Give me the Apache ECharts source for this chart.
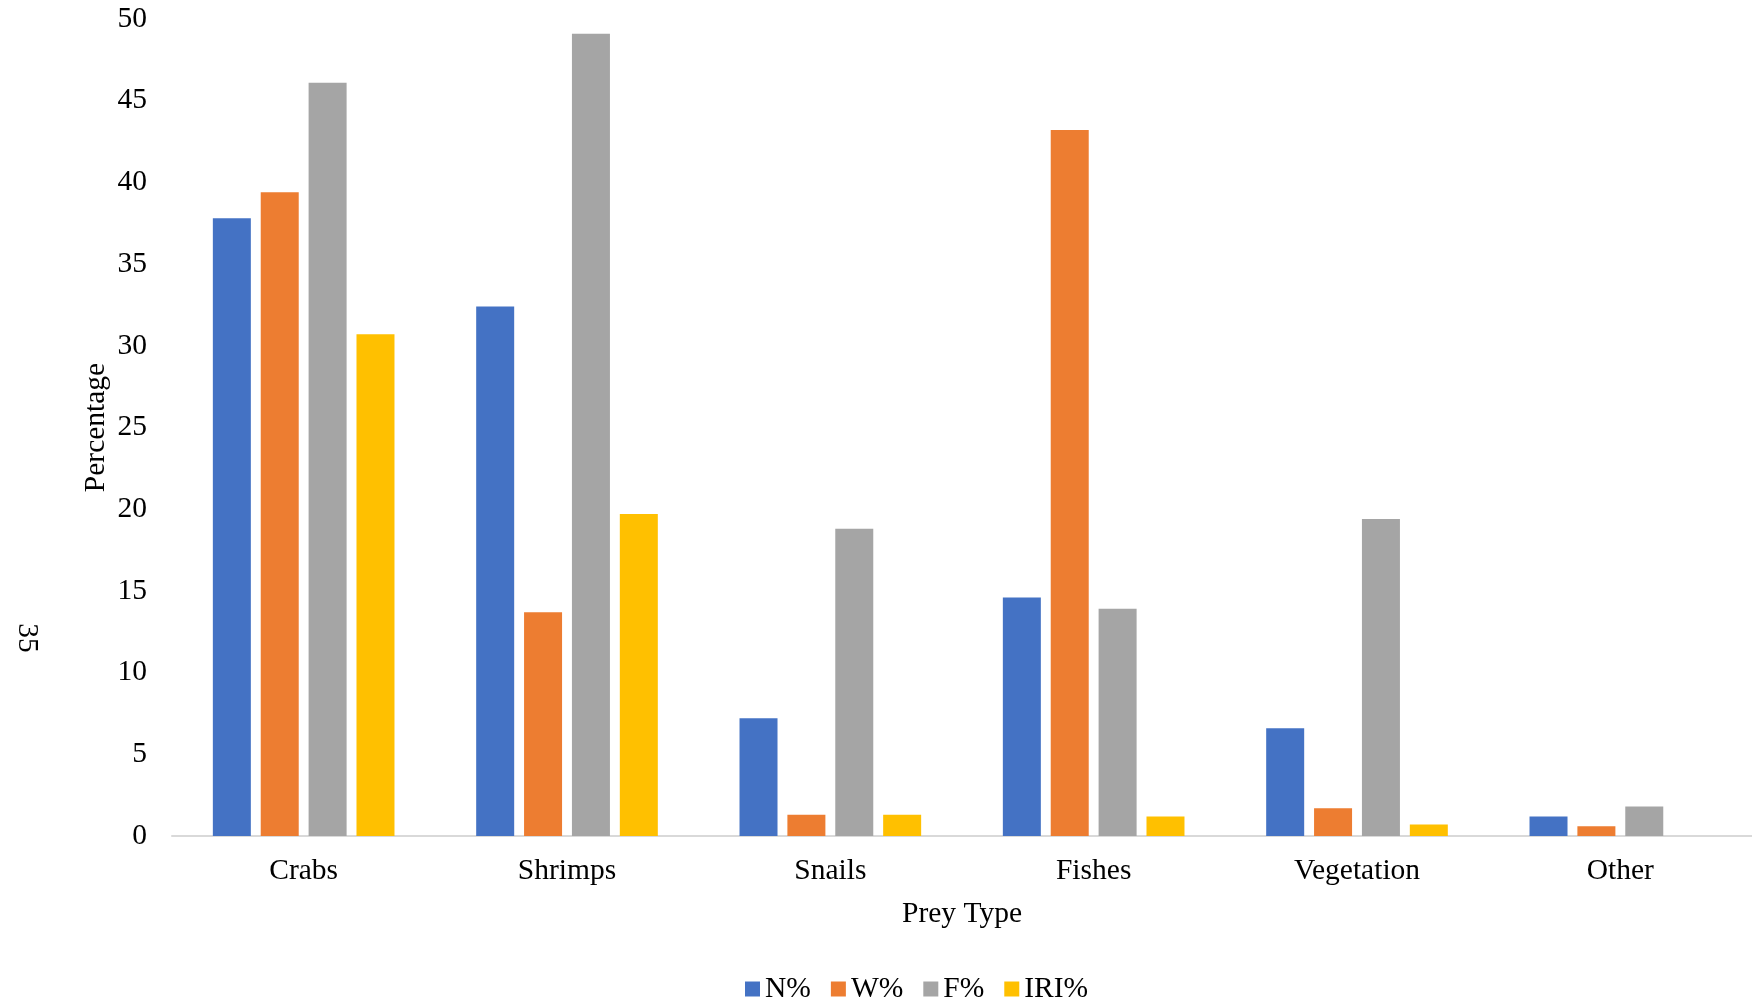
<!DOCTYPE html>
<html>
<head>
<meta charset="utf-8">
<title>Prey Type composition</title>
<script src="https://cdn.jsdelivr.net/npm/echarts@6/dist/echarts.min.js"></script>
<style>
  html, body { margin: 0; padding: 0; background: #ffffff; }
  #chart { width: 1752px; height: 1000px; }
</style>
</head>
<body>
<div id="chart"></div>
<script>
// Prey categories on the x axis
const categories = ['Crabs', 'Shrimps', 'Snails', 'Fishes', 'Vegetation', 'Other'];

// Diet indices (%) per prey type
const nPct   = [37.8, 32.4, 7.2, 14.6, 6.6, 1.2];
const wPct   = [39.4, 13.7, 1.3, 43.2, 1.7, 0.6];
const fPct   = [46.1, 49.1, 18.8, 13.9, 19.4, 1.8];
const iriPct = [30.7, 19.7, 1.3, 1.2, 0.7, 0];

const seriesNames = ['N%', 'W%', 'F%', 'IRI%'];
const seriesColors = ['#4472C4', '#ED7D31', '#A5A5A5', '#FFC000'];

// Y axis ticks
const yMin = 0;
const yMax = 50;
const yStep = 5;

const FONT = '"Liberation Serif", "Times New Roman", serif';
const FS = 29.5;

const chart = echarts.init(document.getElementById('chart'), null, { renderer: 'canvas' });

const seriesData = [nPct, wPct, fPct, iriPct];

const option = {
  animation: false,
  backgroundColor: '#ffffff',
  textStyle: { fontFamily: FONT, color: '#000000' },
  grid: { left: 172, right: 0, top: 19, bottom: 164, containLabel: false },
  legend: {
    data: seriesNames,
    left: 740,
    top: 969,
    icon: 'rect',
    itemWidth: 15,
    itemHeight: 15,
    itemGap: 20,
    textStyle: { fontFamily: FONT, fontSize: FS, color: '#000000' }
  },
  xAxis: {
    type: 'category',
    data: categories,
    name: 'Prey Type',
    nameLocation: 'middle',
    nameGap: 63,
    nameMoveOverlap: false,
    nameTextStyle: { fontFamily: FONT, fontSize: FS, color: '#000000' },
    axisLine: { show: true, lineStyle: { color: '#D9D9D9', width: 2 } },
    axisTick: { show: false },
    axisLabel: { margin: 20, fontFamily: FONT, fontSize: FS, color: '#000000' },
    splitLine: { show: false }
  },
  yAxis: {
    type: 'value',
    min: yMin,
    max: yMax,
    interval: yStep,
    name: 'Percentage',
    nameLocation: 'middle',
    nameGap: 61,
    nameMoveOverlap: false,
    nameTextStyle: { fontFamily: FONT, fontSize: FS, color: '#000000' },
    axisLine: { show: false },
    axisTick: { show: false },
    axisLabel: { margin: 25, fontFamily: FONT, fontSize: FS, color: '#000000' },
    splitLine: { show: false }
  },
  series: seriesNames.map((name, i) => ({
    name: name,
    type: 'bar',
    data: seriesData[i],
    barWidth: 38,
    barGap: '26%',
    itemStyle: { color: seriesColors[i] },
    emphasis: { disabled: true }
  })),
  graphic: [{
    type: 'text',
    x: 27,
    y: 638,
    rotation: -Math.PI / 2,
    style: {
      text: '35',
      fontFamily: FONT,
      fontSize: FS,
      fill: '#000000',
      align: 'center',
      verticalAlign: 'middle'
    }
  }]
};

chart.setOption(option);
</script>
</body>
</html>
